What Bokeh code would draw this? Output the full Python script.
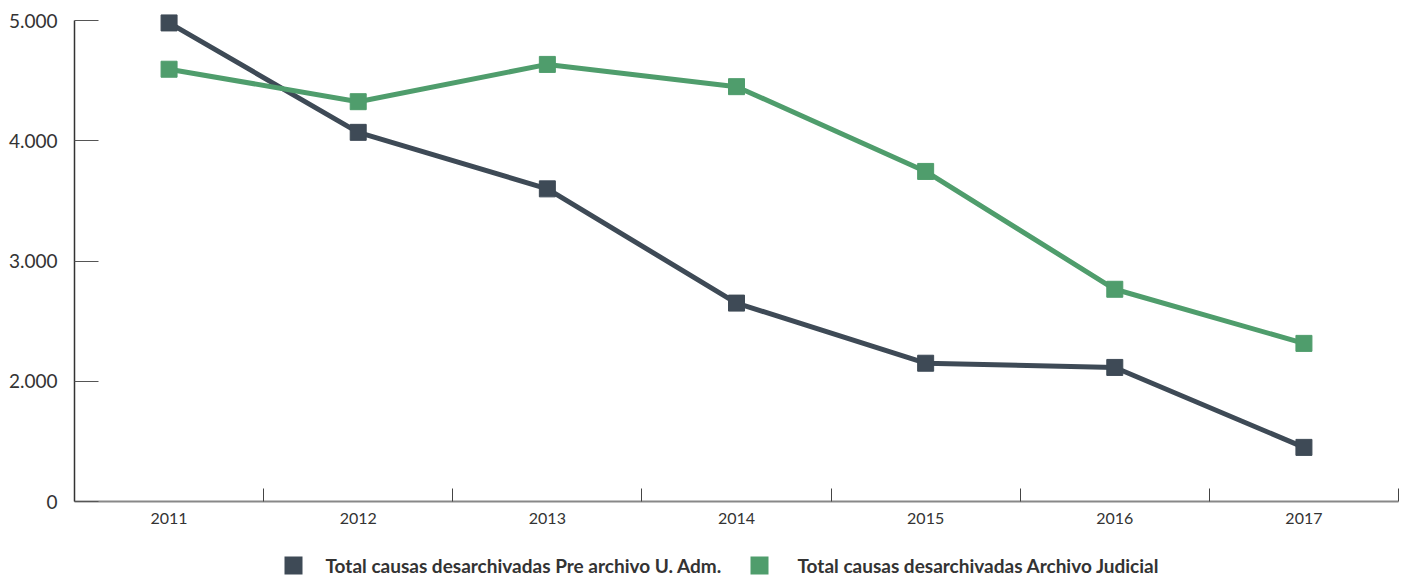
from bokeh.plotting import figure
from bokeh.models import FixedTicker, Range1d
from bokeh.core.properties import value
from bokeh.layouts import column
from bokeh.embed import file_html
from bokeh.resources import INLINE

years = [2011, 2012, 2013, 2014, 2015, 2016, 2017]
pre_archivo = [4980, 4070, 3600, 2650, 2150, 2115, 1450]
archivo_judicial = [4595, 4325, 4635, 4450, 3745, 2765, 2315]
y_ticks = [1000, 2000, 3000, 4000, 5000]
y_labels = ["0", "2.000", "3.000", "4.000", "5.000"]
series_names = ["Total causas desarchivadas Pre archivo U. Adm.",
                "Total causas desarchivadas Archivo Judicial"]

DARK = "#3e4a56"
GREEN = "#4f9d6c"
FONT = "Lato"

p = figure(width=1400, height=545, output_backend="svg", toolbar_location=None,
           x_range=Range1d(2010.5, 2017.5), y_range=Range1d(1000, 5100),
           min_border_left=74, min_border_right=2, min_border_top=8, min_border_bottom=44)
p.outline_line_color = None
p.xgrid.visible = False
p.ygrid.visible = False

p.line(years, pre_archivo, line_color=DARK, line_width=5)
p.scatter(years, pre_archivo, marker="square", size=16, fill_color=DARK, line_color=DARK)
p.line(years, archivo_judicial, line_color=GREEN, line_width=5)
p.scatter(years, archivo_judicial, marker="square", size=16, fill_color=GREEN, line_color=GREEN)

ya = p.yaxis[0]
ya.ticker = FixedTicker(ticks=y_ticks)
ya.bounds = (1000, 5000)
ya.major_label_overrides = {t: l for t, l in zip(y_ticks, y_labels)}
ya.major_tick_in = 24
ya.major_tick_out = 0
ya.minor_tick_line_color = None
ya.axis_line_color = "#333333"
ya.axis_line_width = 1.5
ya.major_tick_line_color = "#555555"
ya.major_label_text_font = FONT
ya.major_label_text_font_size = "19px"
ya.major_label_text_color = "#333333"
ya.major_label_standoff = 17

xa = p.xaxis[0]
xa.ticker = FixedTicker(ticks=years, minor_ticks=[y + 0.5 for y in years])
xa.major_tick_in = 0
xa.major_tick_out = 0
xa.minor_tick_in = 13
xa.minor_tick_out = 0
xa.minor_tick_line_color = "#444444"
xa.axis_line_color = "#888888"
xa.axis_line_width = 2
xa.major_label_text_font = FONT
xa.major_label_text_font_size = "16px"
xa.major_label_text_color = "#333333"
xa.major_label_standoff = 11

# legend strip (pixel-unit layout coordinates, frame aligned with the chart)
q = figure(width=1400, height=34, output_backend="svg", toolbar_location=None,
           x_range=Range1d(0, 1324), y_range=Range1d(0, 34),
           min_border_left=74, min_border_right=2, min_border_top=0, min_border_bottom=0)
q.axis.visible = False
q.grid.visible = False
q.outline_line_color = None

swatch_x = [219, 685]
label_x = [251, 723]
row_y = [14, 14]
q.scatter(swatch_x, row_y, marker="square", size=18, fill_color=[DARK, GREEN], line_color=None)
q.text(label_x, row_y, text=series_names, text_font=value(FONT), text_font_size="19px",
       text_font_style="bold", text_color="#333333", text_baseline="middle", text_align="left")

open("out.html", "w").write(file_html(column(p, q, spacing=0), INLINE))
